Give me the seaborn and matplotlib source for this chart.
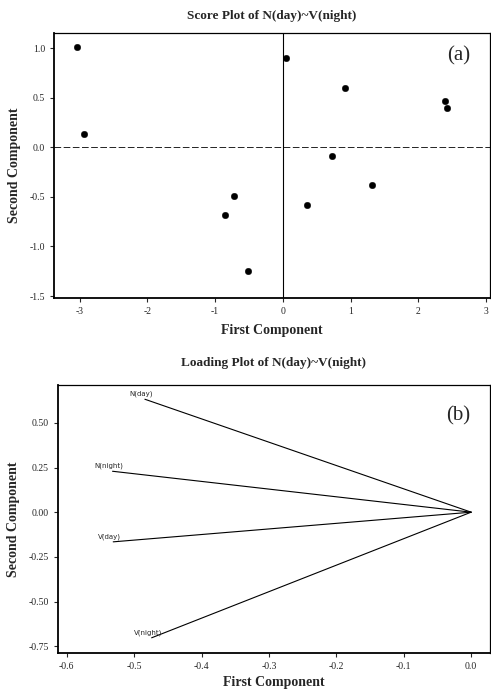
import matplotlib
matplotlib.use("Agg")
import matplotlib.pyplot as plt
import seaborn as sns
import pandas as pd

# Score plot data
score_pc1 = [-3.04, -2.94, 0.05, 0.92, 2.39, 2.43, 0.72, -0.85, -0.72, -0.51, 0.36, 1.32]
score_pc2 = [1.01, 0.13, 0.90, 0.60, 0.47, 0.40, -0.09, -0.68, -0.49, -1.25, -0.58, -0.38]

# Loading plot data
load_vars = ["N(day)", "N(night)", "V(day)", "V(night)"]
load_pc1 = [-0.484, -0.532, -0.531, -0.474]
load_pc2 = [0.632, 0.229, -0.166, -0.703]

score_xticks = [-3, -2, -1, 0, 1, 2, 3]
score_yticks = [1.0, 0.5, 0.0, -0.5, -1.0, -1.5]
load_xticks = [-0.6, -0.5, -0.4, -0.3, -0.2, -0.1, 0.0]
load_yticks = [0.50, 0.25, 0.00, -0.25, -0.50, -0.75]

sns.set_theme(style="ticks")
plt.rcParams['font.family'] = ['Liberation Serif', 'DejaVu Serif']

fig = plt.figure(figsize=(4.91, 6.93), dpi=100)
ax1 = fig.add_axes([0.110, 0.570, 0.888, 0.382])
ax2 = fig.add_axes([0.118, 0.058, 0.880, 0.386])

# ---- Score plot ----
df_s = pd.DataFrame({"pc1": score_pc1, "pc2": score_pc2})
ax1.axhline(0, color="black", lw=0.6, ls=(0, (8, 3)))
ax1.axvline(0, color="black", lw=0.8)
sns.scatterplot(data=df_s, x="pc1", y="pc2", ax=ax1, color="black", s=22,
                edgecolor="black", linewidth=0.3, zorder=3)
ax1.set_xlim(-3.38, 3.06)
ax1.set_ylim(-1.52, 1.15)
ax1.set_xticks(score_xticks)
ax1.set_xticklabels([str(t) for t in score_xticks])
ax1.set_yticks(score_yticks)
ax1.set_yticklabels([f"{t:.1f}" for t in score_yticks])
ax1.set_xlabel("First Component", fontsize=10, fontweight="bold", labelpad=6)
ax1.set_ylabel("Second Component", fontsize=10, fontweight="bold", labelpad=6)
ax1.set_title("Score Plot of N(day)~V(night)", fontsize=9.5, fontweight="bold", pad=10)
ax1.text(0.955, 0.915, "(a)", transform=ax1.transAxes, fontsize=15,
         ha="right", va="center")

# ---- Loading plot ----
rows = []
for v, x, y in zip(load_vars, load_pc1, load_pc2):
    rows.append({"var": v, "pc1": 0.0, "pc2": 0.0, "o": 0})
    rows.append({"var": v, "pc1": x, "pc2": y, "o": 1})
df_l = pd.DataFrame(rows)
sns.lineplot(data=df_l, x="pc1", y="pc2", units="var", estimator=None,
             sort=False, color="black", lw=0.8, ax=ax2)
for v, x, y in zip(load_vars, load_pc1, load_pc2):
    ax2.text(x - 0.005, y + 0.012, v, fontsize=5, family="DejaVu Sans",
             ha="center", va="bottom")
ax2.set_xlim(-0.613, 0.028)
ax2.set_ylim(-0.787, 0.71)
ax2.set_xticks(load_xticks)
ax2.set_xticklabels([f"{t:.1f}" for t in load_xticks])
ax2.set_yticks(load_yticks)
ax2.set_yticklabels([f"{t:.2f}" for t in load_yticks])
ax2.set_xlabel("First Component", fontsize=10, fontweight="bold", labelpad=4)
ax2.set_ylabel("Second Component", fontsize=10, fontweight="bold", labelpad=6)
ax2.set_title("Loading Plot of N(day)~V(night)", fontsize=9.5, fontweight="bold", pad=14)
ax2.text(0.955, 0.885, "(b)", transform=ax2.transAxes, fontsize=15,
         ha="right", va="center")

for ax in (ax1, ax2):
    ax.tick_params(axis="both", labelsize=7, length=3, width=0.8, direction="out")
    for s in ax.spines.values():
        s.set_linewidth(0.9)
        s.set_color("black")
    ax.spines["left"].set_linewidth(1.3)
    ax.spines["bottom"].set_linewidth(1.3)

fig.savefig("out.png", dpi=100)
